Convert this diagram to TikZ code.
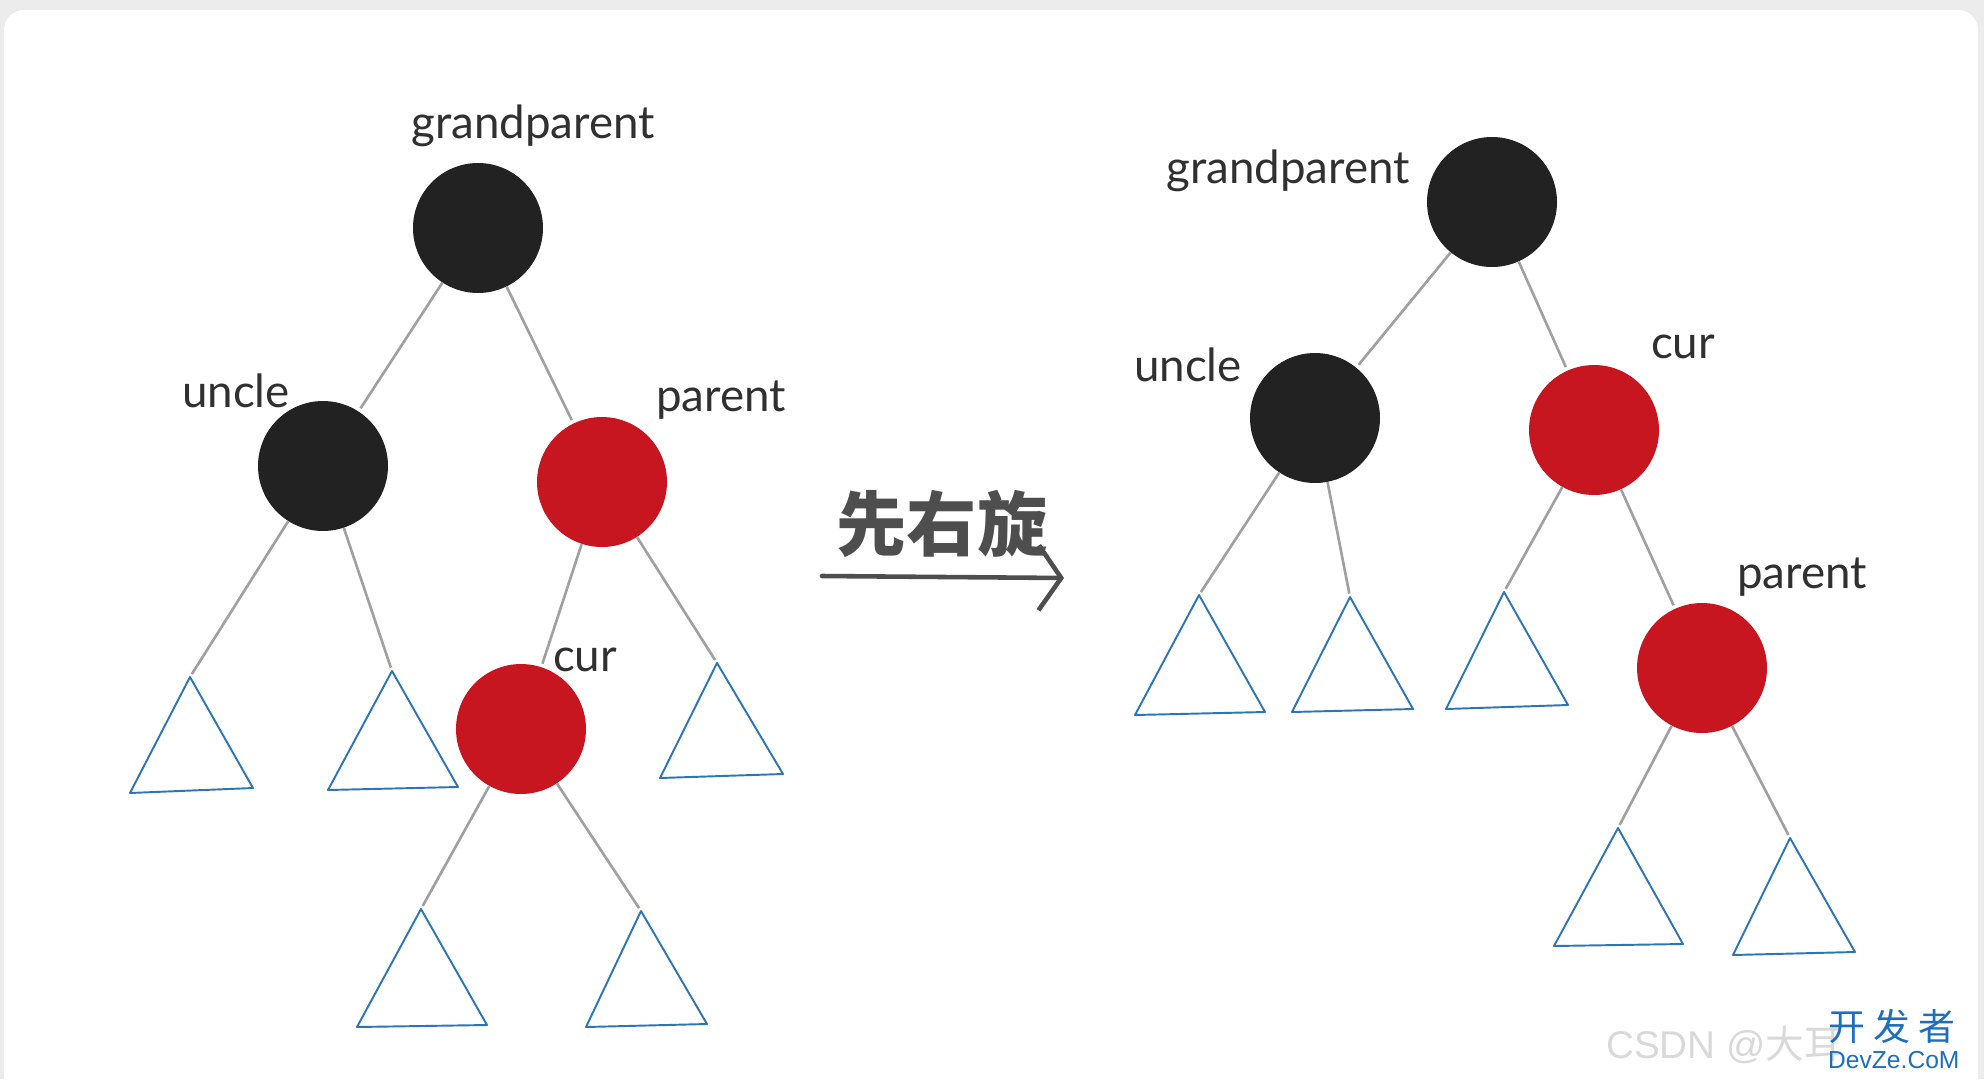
\documentclass[tikz,border=0pt]{standalone}
\usepackage{fontspec}
\setmainfont{Lato}
\newfontfamily\cjkfont{Noto Sans CJK SC}
\newfontfamily\wmfont{Liberation Sans}
\usetikzlibrary{arrows.meta}

\definecolor{nodeblack}{RGB}{34,34,34}
\definecolor{nodered}{RGB}{200,22,32}
\definecolor{edgegray}{RGB}{160,160,160}
\definecolor{treeblue}{RGB}{46,117,182}
\definecolor{labelgray}{RGB}{48,48,48}
\definecolor{arrowgray}{RGB}{78,78,78}
\definecolor{bggray}{RGB}{236,236,236}
\definecolor{wmblue}{RGB}{28,110,190}

\begin{document}
\begin{tikzpicture}[
    x=0.02cm, y=-0.02cm,
    every node/.style={font=\fontsize{26}{30}\selectfont, text=labelgray},
    rbnode/.style={
        circle,
        inner sep=0pt,
        minimum size=2.6cm
    },
    blacknode/.style={rbnode, fill=nodeblack},
    rednode/.style={rbnode, fill=nodered},
    lbl/.style={anchor=base},
    edge/.style={draw=edgegray, line width=1.5pt, shorten >=2pt},
    subtree/.style={draw=treeblue, line width=1.1pt, line join=round},
    rotarrow/.style={
        draw=arrowgray,
        line width=2.6pt,
        line cap=round,
        -{Straight Barb[length=0.45cm, width=1.3cm]}
    }
]

    \useasboundingbox (0,0) rectangle (1984,1079);

    % Background
    \fill[bggray] (0,0) rectangle (1984,1079);
    \fill[white, rounded corners=0.4cm] (4,10) rectangle (1978,1120);

    % Left tree
    \node[blacknode] (gpL) at (478,228) {};
    \node[blacknode] (uncleL) at (323,466) {};
    \node[rednode] (parentL) at (602,482) {};
    \node[rednode] (curL) at (521,729) {};

    \node[lbl] at (533,138) {grandparent};
    \node[lbl] at (236,407) {uncle};
    \node[lbl] at (721,411) {parent};
    \node[lbl] at (585,671) {cur};

    \coordinate (tL1) at (190,677);
    \coordinate (tL2) at (392,671);
    \coordinate (tL3) at (717,663);
    \coordinate (tL4) at (421,909);
    \coordinate (tL5) at (641,911);

    \draw[subtree] (tL1) -- (130,793) -- (253,788) -- cycle;
    \draw[subtree] (tL2) -- (328,790) -- (458,787) -- cycle;
    \draw[subtree] (tL3) -- (660,778) -- (783,774) -- cycle;
    \draw[subtree] (tL4) -- (357,1027) -- (487,1025) -- cycle;
    \draw[subtree] (tL5) -- (586,1027) -- (707,1024) -- cycle;

    \draw[edge] (gpL) -- (uncleL);
    \draw[edge] (gpL) -- (parentL);
    \draw[edge] (uncleL) -- (tL1);
    \draw[edge] (uncleL) -- (tL2);
    \draw[edge] (parentL) -- (curL);
    \draw[edge] (parentL) -- (tL3);
    \draw[edge] (curL) -- (tL4);
    \draw[edge] (curL) -- (tL5);

    % Rotation arrow
    \node[
        font=\cjkfont\bfseries\fontsize{40}{42}\selectfont,
        text=arrowgray
    ] (rotlbl) at (942,524) {先右旋};
    \coordinate (arrS) at (822,576);
    \coordinate (arrE) at (1064,578);
    \draw[rotarrow] (arrS) -- (arrE);

    % Right tree
    \node[blacknode] (gpR) at (1492,202) {};
    \node[blacknode] (uncleR) at (1315,418) {};
    \node[rednode] (curR) at (1594,430) {};
    \node[rednode] (parentR) at (1702,668) {};

    \node[lbl] at (1288,183) {grandparent};
    \node[lbl] at (1188,381) {uncle};
    \node[lbl] at (1683,358) {cur};
    \node[lbl] at (1802,588) {parent};

    \coordinate (tR1) at (1199,595);
    \coordinate (tR2) at (1350,597);
    \coordinate (tR3) at (1504,592);
    \coordinate (tR4) at (1618,828);
    \coordinate (tR5) at (1790,838);

    \draw[subtree] (tR1) -- (1135,715) -- (1265,712) -- cycle;
    \draw[subtree] (tR2) -- (1292,712) -- (1413,709) -- cycle;
    \draw[subtree] (tR3) -- (1446,709) -- (1568,705) -- cycle;
    \draw[subtree] (tR4) -- (1554,946) -- (1683,944) -- cycle;
    \draw[subtree] (tR5) -- (1733,955) -- (1855,952) -- cycle;

    \draw[edge] (gpR) -- (uncleR);
    \draw[edge] (gpR) -- (curR);
    \draw[edge] (uncleR) -- (tR1);
    \draw[edge] (uncleR) -- (tR2);
    \draw[edge] (curR) -- (tR3);
    \draw[edge] (curR) -- (parentR);
    \draw[edge] (parentR) -- (tR4);
    \draw[edge] (parentR) -- (tR5);

    % Watermark
    \node[
        anchor=base west,
        text=gray!30,
        font=\wmfont\fontsize{22}{24}\selectfont
    ] (wmcsdn) at (1600,1058) {CSDN @\cjkfont 大耳};
    \node[
        anchor=base west,
        text=wmblue,
        font=\cjkfont\fontsize{21}{22}\selectfont
    ] (wmcn) at (1822,1040) {开 发 者};
    \node[
        anchor=base west,
        text=wmblue,
        font=\wmfont\fontsize{14}{16}\selectfont
    ] (wmen) at (1822,1068) {DevZe.CoM};

\end{tikzpicture}
\end{document}
